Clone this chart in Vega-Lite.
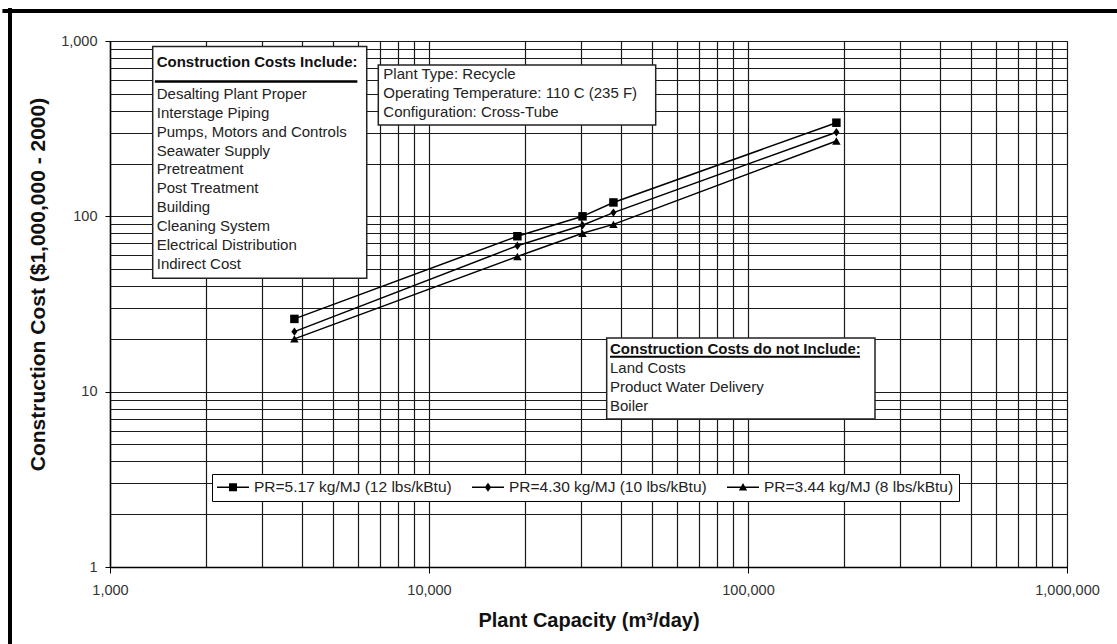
{
  "$schema": "https://vega.github.io/schema/vega-lite/v6.json",
  "width": 957,
  "height": 526,
  "autosize": {"type": "none"},
  "padding": {"left": 110, "top": 41, "right": 50, "bottom": 77},
  "background": "white",
  "config": {
    "font": "Liberation Sans",
    "view": {"stroke": "#111", "strokeWidth": 1},
    "axis": {
      "grid": true,
      "gridColor": "#1a1a1a",
      "gridWidth": 1.2,
      "domainColor": "#000",
      "domainWidth": 1.5,
      "labelFont": "Liberation Sans",
      "labelFontSize": 14.5,
      "labelColor": "#333",
      "labelOverlap": false,
      "labelFlush": false,
      "labelBound": false,
      "titleFont": "Liberation Sans",
      "titleFontWeight": "bold",
      "titleColor": "#111"
    },
    "legend": {"labelFont": "Liberation Sans"}
  },
  "datasets": {
    "costs": [
      {"capacity": 3785, "cost": 26.0, "series": "PR=5.17 kg/MJ (12 lbs/kBtu)"},
      {"capacity": 18927, "cost": 77, "series": "PR=5.17 kg/MJ (12 lbs/kBtu)"},
      {"capacity": 30283, "cost": 100, "series": "PR=5.17 kg/MJ (12 lbs/kBtu)"},
      {"capacity": 37854, "cost": 120, "series": "PR=5.17 kg/MJ (12 lbs/kBtu)"},
      {"capacity": 189271, "cost": 342, "series": "PR=5.17 kg/MJ (12 lbs/kBtu)"},
      {"capacity": 3785, "cost": 22.0, "series": "PR=4.30 kg/MJ (10 lbs/kBtu)"},
      {"capacity": 18927, "cost": 68, "series": "PR=4.30 kg/MJ (10 lbs/kBtu)"},
      {"capacity": 30283, "cost": 89, "series": "PR=4.30 kg/MJ (10 lbs/kBtu)"},
      {"capacity": 37854, "cost": 105, "series": "PR=4.30 kg/MJ (10 lbs/kBtu)"},
      {"capacity": 189271, "cost": 302, "series": "PR=4.30 kg/MJ (10 lbs/kBtu)"},
      {"capacity": 3785, "cost": 20.0, "series": "PR=3.44 kg/MJ (8 lbs/kBtu)"},
      {"capacity": 18927, "cost": 59, "series": "PR=3.44 kg/MJ (8 lbs/kBtu)"},
      {"capacity": 30283, "cost": 80, "series": "PR=3.44 kg/MJ (8 lbs/kBtu)"},
      {"capacity": 37854, "cost": 90, "series": "PR=3.44 kg/MJ (8 lbs/kBtu)"},
      {"capacity": 189271, "cost": 269, "series": "PR=3.44 kg/MJ (8 lbs/kBtu)"}
    ]
  },
  "layer": [
    {
      "data": {"name": "costs"},
      "mark": {"type": "line", "color": "#000", "strokeWidth": 1.5},
      "encoding": {
        "x": {
          "field": "capacity",
          "type": "quantitative",
          "scale": {"type": "log", "domain": [1000, 1000000]},
          "title": "Plant Capacity (m³/day)",
          "axis": {
            "values": [1000, 2000, 3000, 4000, 5000, 6000, 7000, 8000, 9000, 10000, 20000, 30000, 40000, 50000, 60000, 70000, 80000, 90000, 100000, 200000, 300000, 400000, 500000, 600000, 700000, 800000, 900000, 1000000],
            "labelExpr": "indexof([1000,10000,100000,1000000], datum.value) >= 0 ? format(datum.value, ',') : ''",
            "tickColor": {"condition": {"test": "indexof([1000,10000,100000,1000000], datum.value) >= 0", "value": "#000"}, "value": "transparent"},
            "tickSize": 6,
            "labelPadding": 10,
            "titleFontSize": 20,
            "titlePadding": 14
          }
        },
        "y": {
          "field": "cost",
          "type": "quantitative",
          "scale": {"type": "log", "domain": [1, 1000]},
          "title": "Construction Cost ($1,000,000 - 2000)",
          "axis": {
            "values": [1, 2, 3, 4, 5, 6, 7, 8, 9, 10, 20, 30, 40, 50, 60, 70, 80, 90, 100, 200, 300, 400, 500, 600, 700, 800, 900, 1000],
            "labelExpr": "indexof([1,10,100,1000], datum.value) >= 0 ? format(datum.value, ',') : ''",
            "tickColor": {"condition": {"test": "indexof([1,10,100,1000], datum.value) >= 0", "value": "#000"}, "value": "transparent"},
            "tickSize": 5,
            "labelPadding": 8,
            "titleFontSize": 21,
            "titlePadding": 12,
            "titleY": 243
          }
        },
        "detail": {"field": "series"}
      }
    },
    {
      "data": {"name": "costs"},
      "mark": {"type": "point", "filled": true, "opacity": 1, "color": "#000", "size": 72},
      "encoding": {
        "x": {"field": "capacity", "type": "quantitative"},
        "y": {"field": "cost", "type": "quantitative"},
        "shape": {
          "field": "series",
          "type": "nominal",
          "scale": {
            "domain": ["PR=5.17 kg/MJ (12 lbs/kBtu)", "PR=4.30 kg/MJ (10 lbs/kBtu)", "PR=3.44 kg/MJ (8 lbs/kBtu)"],
            "range": ["square", "M0,-1L0.72,0L0,1L-0.72,0Z", "triangle-up"]
          },
          "legend": null
        }
      }
    },
    {
      "data": {"name": "costs"},
      "mark": {"type": "point", "filled": true, "opacity": 1, "color": "#000", "size": 256, "clip": true},
      "encoding": {
        "x": {"datum": 10, "type": "quantitative"},
        "y": {"datum": 0.1, "type": "quantitative"},
        "shape": {
          "field": "series",
          "type": "nominal",
          "scale": {
            "domain": ["PR=5.17 kg/MJ (12 lbs/kBtu)", "PR=4.30 kg/MJ (10 lbs/kBtu)", "PR=3.44 kg/MJ (8 lbs/kBtu)"],
            "range": [
              "M-2,-0.09L2,-0.09L2,0.09L-2,0.09ZM-0.5,-0.5L0.5,-0.5L0.5,0.5L-0.5,0.5Z",
              "M-2,-0.09L2,-0.09L2,0.09L-2,0.09ZM0,-0.56L0.4,0L0,0.56L-0.4,0Z",
              "M-2,-0.09L2,-0.09L2,0.09L-2,0.09ZM0,-0.52L0.52,0.4L-0.52,0.4Z"
            ]
          },
          "legend": {
            "title": null,
            "orient": "none",
            "legendX": 102,
            "legendY": 433,
            "direction": "horizontal",
            "columns": 3,
            "columnPadding": 20,
            "symbolOffset": 8,
            "labelOffset": 13,
            "padding": 5,
            "symbolSize": 256,
            "symbolStrokeWidth": 0,
            "symbolFillColor": "#000",
            "symbolOpacity": 1,
            "labelFontSize": 15.5,
            "labelColor": "#222",
            "labelLimit": 400,
            "strokeColor": "#000",
            "fillColor": "white"
          }
        }
      }
    },
    {
      "data": {"values": [{}]},
      "mark": {"type": "rect", "fill": "white", "stroke": "#222", "strokeWidth": 1.5},
      "encoding": {
        "x": {"datum": 1361, "type": "quantitative"},
        "x2": {"datum": 6380},
        "y": {"datum": 929, "type": "quantitative"},
        "y2": {"datum": 44.4}
      }
    },
    {
      "data": {"values": [{}]},
      "mark": {"type": "rect", "fill": "white", "stroke": "#222", "strokeWidth": 1.5},
      "encoding": {
        "x": {"datum": 6935, "type": "quantitative"},
        "x2": {"datum": 51360},
        "y": {"datum": 730.7, "type": "quantitative"},
        "y2": {"datum": 332.2}
      }
    },
    {
      "data": {"values": [{}]},
      "mark": {"type": "rect", "fill": "white", "stroke": "#222", "strokeWidth": 1.5},
      "encoding": {
        "x": {"datum": 36060, "type": "quantitative"},
        "x2": {"datum": 250100},
        "y": {"datum": 20.25, "type": "quantitative"},
        "y2": {"datum": 6.99}
      }
    },
    {
      "data": {"values": [{}]},
      "mark": {"type": "text", "align": "left", "baseline": "alphabetic", "font": "Liberation Sans", "fontSize": 15, "fontWeight": "bold", "color": "#111", "text": "Construction Costs Include:"},
      "encoding": {
        "x": {"datum": 1401, "type": "quantitative"},
        "y": {"datum": 708.9, "type": "quantitative"}
      }
    },
    {
      "data": {"values": [{}]},
      "mark": {"type": "rule", "color": "#000", "strokeWidth": 2.5},
      "encoding": {
        "x": {"datum": 1383, "type": "quantitative"},
        "x2": {"datum": 5963},
        "y": {"datum": 586.6, "type": "quantitative"}
      }
    },
    {
      "data": {"values": [{}]},
      "mark": {"type": "text", "align": "left", "baseline": "alphabetic", "font": "Liberation Sans", "fontSize": 15, "lineHeight": 18.9, "color": "#222",
        "text": ["Desalting Plant Proper", "Interstage Piping", "Pumps, Motors and Controls", "Seawater Supply", "Pretreatment", "Post Treatment", "Building", "Cleaning System", "Electrical Distribution", "Indirect Cost"]},
      "encoding": {
        "x": {"datum": 1401, "type": "quantitative"},
        "y": {"datum": 467.5, "type": "quantitative"}
      }
    },
    {
      "data": {"values": [{}]},
      "mark": {"type": "text", "align": "left", "baseline": "alphabetic", "font": "Liberation Sans", "fontSize": 15, "lineHeight": 19.1, "color": "#222",
        "text": ["Plant Type: Recycle", "Operating Temperature: 110 C (235 F)", "Configuration: Cross-Tube"]},
      "encoding": {
        "x": {"datum": 7193, "type": "quantitative"},
        "y": {"datum": 607.9, "type": "quantitative"}
      }
    },
    {
      "data": {"values": [{}]},
      "mark": {"type": "text", "align": "left", "baseline": "alphabetic", "font": "Liberation Sans", "fontSize": 15, "fontWeight": "bold", "color": "#111", "text": "Construction Costs do not Include:"},
      "encoding": {
        "x": {"datum": 36930, "type": "quantitative"},
        "y": {"datum": 16.41, "type": "quantitative"}
      }
    },
    {
      "data": {"values": [{}]},
      "mark": {"type": "rule", "color": "#000", "strokeWidth": 2},
      "encoding": {
        "x": {"datum": 36930, "type": "quantitative"},
        "x2": {"datum": 224400},
        "y": {"datum": 15.84, "type": "quantitative"}
      }
    },
    {
      "data": {"values": [{}]},
      "mark": {"type": "text", "align": "left", "baseline": "alphabetic", "font": "Liberation Sans", "fontSize": 15, "lineHeight": 19, "color": "#222",
        "text": ["Land Costs", "Product Water Delivery", "Boiler"]},
      "encoding": {
        "x": {"datum": 36930, "type": "quantitative"},
        "y": {"datum": 12.73, "type": "quantitative"}
      }
    },
    {
      "data": {"values": [{}]},
      "mark": {"type": "rule", "color": "#000", "strokeWidth": 4, "clip": false},
      "encoding": {
        "x": {"datum": 460, "type": "quantitative"},
        "x2": {"datum": 1434600},
        "y": {"datum": 1485, "type": "quantitative"}
      }
    },
    {
      "data": {"values": [{}]},
      "mark": {"type": "rule", "color": "#000", "strokeWidth": 4, "clip": false},
      "encoding": {
        "x": {"datum": 485.9, "type": "quantitative"},
        "y": {"datum": 1540, "type": "quantitative"},
        "y2": {"datum": 0.3637}
      }
    }
  ],
  "resolve": {"scale": {"shape": "independent"}, "legend": {"shape": "independent"}}
}
